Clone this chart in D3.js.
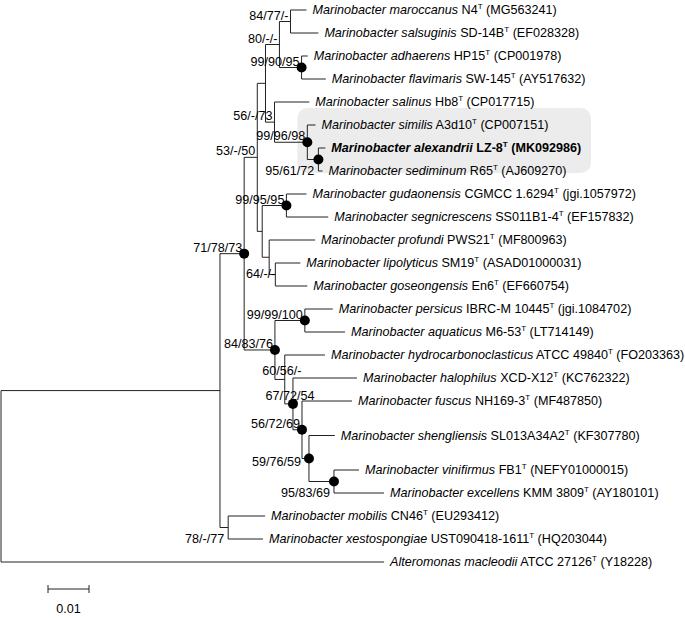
<!DOCTYPE html>
<html>
<head>
<meta charset="utf-8">
<script src="https://d3js.org/d3.v7.min.js"></script>
<style>
  body { margin: 0; background: #fff; }
  svg { font-family: Arial, "Liberation Sans", sans-serif; }
  .branch { fill: none; stroke: #222; stroke-width: 1; }
  .leaf { font-size: 12.6px; fill: #000; }
  .support { font-size: 12.6px; fill: #000; }
  .node-dot { fill: #000; }
  .highlight { fill: #ececec; }
</style>
</head>
<body>
<div id="tree"></div>
<script>
// leaves, top to bottom
const leafIds = ["maroccanus", "salsuginis", "adhaerens", "flavimaris", "salinus", "similis",
  "alexandrii", "sediminum", "gudaonensis", "segnicrescens", "profundi", "lipolyticus",
  "goseongensis", "persicus", "aquaticus", "hydrocarbonoclasticus", "halophilus", "fuscus",
  "shengliensis", "vinifirmus", "excellens", "mobilis", "xestospongiae", "macleodii"];

const speciesNames = leafIds.map(d => (d === "macleodii" ? "Alteromonas " : "Marinobacter ") + d);

const strains = ["N4", "SD-14B", "HP15", "SW-145", "Hb8", "A3d10", "LZ-8", "R65", "CGMCC 1.6294",
  "SS011B1-4", "PWS21", "SM19", "En6", "IBRC-M 10445", "M6-53", "ATCC 49840", "XCD-X12",
  "NH169-3", "SL013A34A2", "FB1", "KMM 3809", "CN46", "UST090418-1611", "ATCC 27126"];

const accessions = ["MG563241", "EF028328", "CP001978", "AY517632", "CP017715", "CP007151",
  "MK092986", "AJ609270", "jgi.1057972", "EF157832", "MF800963", "ASAD01000031", "EF660754",
  "jgi.1084702", "LT714149", "FO203363", "KC762322", "MF487850", "KF307780", "NEFY01000015",
  "AY180101", "EU293412", "HQ203044", "Y18228"];

// [node, parent, branch length]
const branches = [
  ["root", "", 0],
  ["L", "root", 0.0534],
  ["J", "L", 0.0059],
  ["A", "J", 0.0032],
  ["B", "A", 0.0020],
  ["T", "B", 0.0034],
  ["U", "T", 0.0027],
  ["maroccanus", "U", 0.0039],
  ["salsuginis", "U", 0.0068],
  ["V", "T", 0.0054],
  ["adhaerens", "V", 0.0015],
  ["flavimaris", "V", 0.0059],
  ["C", "B", 0.0022],
  ["salinus", "C", 0.0085],
  ["D", "C", 0.0080],
  ["similis", "D", 0.0020],
  ["E", "D", 0.0027],
  ["alexandrii", "E", 0.0017],
  ["sediminum", "E", 0.0010],
  ["F", "A", 0.0012],
  ["G", "F", 0.0059],
  ["gudaonensis", "G", 0.0049],
  ["segnicrescens", "G", 0.0102],
  ["H", "F", 0.0017],
  ["profundi", "H", 0.0112],
  ["I", "H", 0.0015],
  ["lipolyticus", "I", 0.0061],
  ["goseongensis", "I", 0.0078],
  ["K", "J", 0.0075],
  ["N", "K", 0.0073],
  ["persicus", "N", 0.0068],
  ["aquaticus", "N", 0.0098],
  ["O", "K", 0.0024],
  ["hydrocarbonoclasticus", "O", 0.0098],
  ["P", "O", 0.0020],
  ["halophilus", "P", 0.0156],
  ["Q", "P", 0.0022],
  ["fuscus", "Q", 0.0122],
  ["R", "Q", 0.0017],
  ["shengliensis", "R", 0.0063],
  ["S", "R", 0.0061],
  ["vinifirmus", "S", 0.0061],
  ["excellens", "S", 0.0122],
  ["M", "L", 0.0020],
  ["mobilis", "M", 0.0090],
  ["xestospongiae", "M", 0.0085],
  ["macleodii", "root", 0.0934]
];

// bootstrap support (NJ/ML/MP)
const supports = [["U", "84/77/-"], ["V", "99/90/95"], ["T", "80/-/-"], ["C", "56/-/73"],
  ["D", "99/96/98"], ["E", "95/61/72"], ["A", "53/-/50"], ["G", "99/95/95"], ["I", "64/-/-"],
  ["J", "71/78/73"], ["N", "99/99/100"], ["K", "84/83/76"], ["O", "60/56/-"], ["P", "67/72/54"],
  ["Q", "56/72/69"], ["R", "59/76/59"], ["S", "95/83/69"], ["M", "78/-/77"]];

const scaleBarValue = 0.01;
const newStrain = "alexandrii";
const highlightClade = "D";

(function() {
  const width = 685, height = 618;

  // where labels sit relative to their node, default is above the branch
  const labelPlace = { E: "below", S: "below", M: "below", I: "left", R: "left", P: "mid", O: "mid" };
  // leaves that get an extra half row of space above them
  const widerGapsBefore = ["shengliensis", "vinifirmus"];

  const svg = d3.select("#tree").append("svg")
    .attr("width", width)
    .attr("height", height);

  const root = d3.stratify()
    .id(d => d[0])
    .parentId(d => d[1])(branches);

  root.eachBefore(n => { n.dist = n.parent ? n.parent.dist + n.data[2] : 0; });

  const maxDist = d3.max(root.leaves(), n => n.dist);

  const x = d3.scaleLinear()
    .domain([0, maxDist])
    .range([1, 384]);

  let row = 0;
  const leaves = root.leaves();
  leaves.forEach(n => {
    if (widerGapsBefore.includes(n.id)) row += 0.5;
    n.row = row;
    row += 1;
  });

  const y = d3.scaleLinear()
    .domain([0, d3.max(leaves, n => n.row)])
    .range([10, 562]);

  root.eachAfter(n => {
    n.x = x(n.dist);
    if (n.children) {
      n.y = (n.children[0].y + n.children[n.children.length - 1].y) / 2;
    } else {
      n.y = y(n.row);
    }
  });

  const supportMap = new Map(supports);

  // grey box behind the new strain's clade
  const hl = root.find(n => n.id === highlightClade);
  const hlLeaves = hl.leaves();
  svg.append("rect")
    .attr("class", "highlight")
    .attr("x", hl.x - 10)
    .attr("y", hlLeaves[0].y - 17)
    .attr("width", 591 - (hl.x - 10))
    .attr("height", hlLeaves[hlLeaves.length - 1].y - hlLeaves[0].y + 19)
    .attr("rx", 10);

  const g = svg.append("g");

  // horizontal branches
  g.selectAll(".hbranch")
    .data(root.descendants().filter(n => n.parent))
  .enter().append("line")
    .attr("class", "branch")
    .attr("x1", n => n.parent.x)
    .attr("x2", n => n.x)
    .attr("y1", n => n.y)
    .attr("y2", n => n.y);

  // vertical connectors
  g.selectAll(".vbranch")
    .data(root.descendants().filter(n => n.children))
  .enter().append("line")
    .attr("class", "branch")
    .attr("x1", n => n.x)
    .attr("x2", n => n.x)
    .attr("y1", n => n.children[0].y)
    .attr("y2", n => n.children[n.children.length - 1].y);

  // dots where all three methods agree
  const supported = root.descendants().filter(n => supportMap.has(n.id));

  g.selectAll(".node-dot")
    .data(supported.filter(n => !supportMap.get(n.id).includes("-")))
  .enter().append("circle")
    .attr("class", "node-dot")
    .attr("cx", n => n.x)
    .attr("cy", n => n.y)
    .attr("r", 5);

  g.selectAll(".support")
    .data(supported)
  .enter().append("text")
    .attr("class", "support")
    .each(function(n) {
      const self = d3.select(this);
      const place = labelPlace[n.id] || "above";
      const dotted = !supportMap.get(n.id).includes("-");
      let tx = n.x - 2, ty = n.y - 2, anchor = "end";
      if (place === "below") { tx = n.x - 4; ty = n.y + 15; }
      if (place === "left") { tx = n.x - (dotted ? 8 : 0); ty = n.y + (dotted ? 7 : 3); }
      if (place === "mid") { tx = n.x - 3; ty = n.y - 4; anchor = "middle"; }
      self.attr("x", tx).attr("y", ty).attr("text-anchor", anchor)
        .text(supportMap.get(n.id));
    });

  // leaf labels
  g.selectAll(".leaf")
    .data(leaves)
  .enter().append("text")
    .attr("class", "leaf")
    .attr("x", n => n.x + 6)
    .attr("y", n => n.y + 4)
    .style("font-weight", n => n.id === newStrain ? "bold" : null)
    .each(function(n) {
      const self = d3.select(this);
      const i = leafIds.indexOf(n.id);
      self.append("tspan").style("font-style", "italic").text(speciesNames[i]);
      self.append("tspan").text(" " + strains[i]);
      self.append("tspan").attr("dy", -5).style("font-size", "8px").text("T");
      self.append("tspan").attr("dy", 5).text(" (" + accessions[i] + ")");
    });

  // scale bar
  const barX = 48, barY = 589;
  const barW = x(scaleBarValue) - x(0);
  const bar = svg.append("g").attr("transform", "translate(" + barX + "," + barY + ")");
  bar.append("line").attr("class", "branch").attr("x1", 0).attr("x2", barW);
  bar.append("line").attr("class", "branch").attr("y1", -4).attr("y2", 4);
  bar.append("line").attr("class", "branch").attr("x1", barW).attr("x2", barW).attr("y1", -4).attr("y2", 4);
  bar.append("text")
    .attr("class", "support")
    .attr("x", barW / 2)
    .attr("y", 24)
    .attr("text-anchor", "middle")
    .text(scaleBarValue);
})();
</script>
</body>
</html>
